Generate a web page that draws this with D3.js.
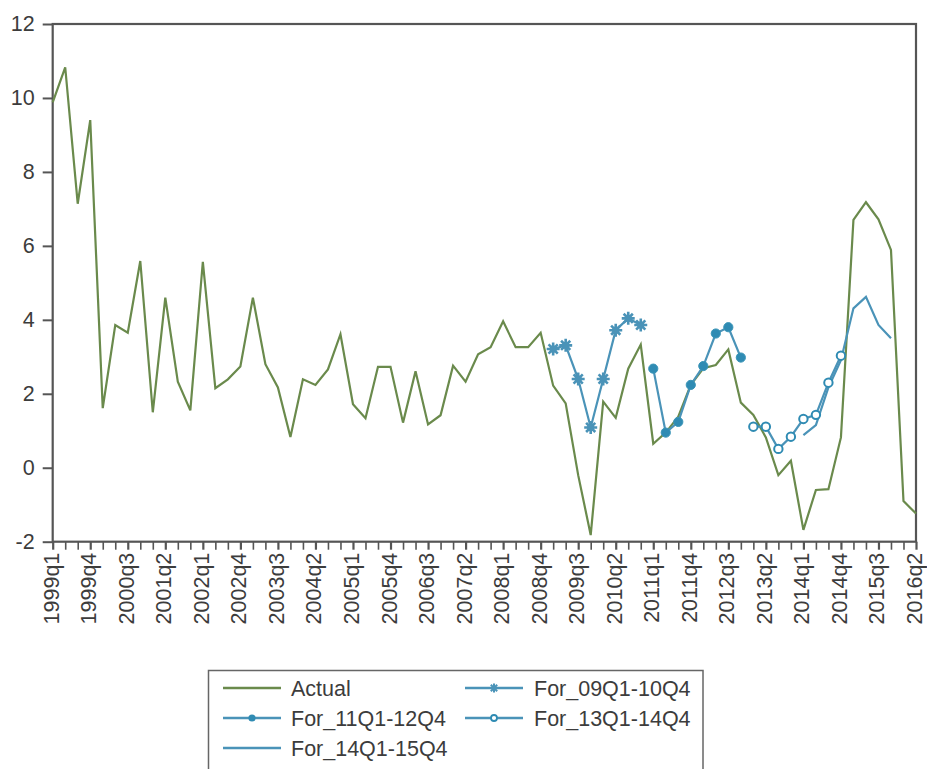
<!DOCTYPE html>
<html>
<head>
<meta charset="utf-8">
<script src="https://cdn.jsdelivr.net/npm/d3@7"></script>
<style>
  html, body { margin: 0; padding: 0; background: #fff; }
  svg { display: block; }
  text { font-family: "Liberation Sans", Arial, sans-serif; fill: #3c3c3c; }
</style>
</head>
<body>
<svg id="chart" width="927" height="769"></svg>
<script>
// Quarterly periods on the category axis
const quarters = [
  "1999q1","1999q2","1999q3","1999q4","2000q1","2000q2","2000q3","2000q4",
  "2001q1","2001q2","2001q3","2001q4","2002q1","2002q2","2002q3","2002q4",
  "2003q1","2003q2","2003q3","2003q4","2004q1","2004q2","2004q3","2004q4",
  "2005q1","2005q2","2005q3","2005q4","2006q1","2006q2","2006q3","2006q4",
  "2007q1","2007q2","2007q3","2007q4","2008q1","2008q2","2008q3","2008q4",
  "2009q1","2009q2","2009q3","2009q4","2010q1","2010q2","2010q3","2010q4",
  "2011q1","2011q2","2011q3","2011q4","2012q1","2012q2","2012q3","2012q4",
  "2013q1","2013q2","2013q3","2013q4","2014q1","2014q2","2014q3","2014q4",
  "2015q1","2015q2","2015q3","2015q4","2016q1","2016q2"
];

// Labelled periods on the x axis
const xTickLabels = [
  "1999q1","1999q4","2000q3","2001q2","2002q1","2002q4","2003q3","2004q2",
  "2005q1","2005q4","2006q3","2007q2","2008q1","2008q4","2009q3","2010q2",
  "2011q1","2011q4","2012q3","2013q2","2014q1","2014q4","2015q3","2016q2"
];

const yTicks = [-2, 0, 2, 4, 6, 8, 10, 12];

// Actual series
const actual = [
  9.88, 10.83, 7.14, 9.40, 1.61, 3.86, 3.65, 5.59, 1.50, 4.60,
  2.33, 1.55, 5.57, 2.15, 2.39, 2.74, 4.60, 2.80, 2.17, 0.83,
  2.39, 2.24, 2.66, 3.61, 1.72, 1.34, 2.73, 2.73, 1.22, 2.61,
  1.17, 1.42, 2.76, 2.33, 3.07, 3.26, 3.96, 3.26, 3.26, 3.65,
  2.22, 1.74, -0.20, -1.82, 1.79, 1.35, 2.68, 3.33, 0.65, 0.95,
  1.38, 2.24, 2.69, 2.78, 3.20, 1.76, 1.43, 0.82, -0.20, 0.19,
  -1.68, -0.60, -0.58, 0.82, 6.70, 7.18, 6.72, 5.89, -0.90, -1.24
];

// Forecast paths, each beginning at its first forecast quarter
const for09Start = "2009q1";
const for09 = [3.21, 3.31, 2.40, 1.09, 2.40, 3.72, 4.04, 3.86];
const for11Start = "2011q1";
const for11 = [2.68, 0.95, 1.24, 2.24, 2.75, 3.63, 3.80, 2.98];
const for13Start = "2013q1";
const for13 = [1.11, 1.11, 0.51, 0.84, 1.32, 1.43, 2.30, 3.03];
const for14Start = "2014q1";
const for14 = [0.88, 1.15, 2.17, 2.91, 4.31, 4.62, 3.86, 3.50];

const legendNames = ["Actual", "For_09Q1-10Q4", "For_11Q1-12Q4", "For_13Q1-14Q4", "For_14Q1-15Q4"];

// ---- layout ----
const svg = d3.select("#chart");
const plot = { left: 52.7, right: 916, top: 24, bottom: 541.7 };
const green = "#6a8a4c";
const blue = "#4a93b8";
const markerBlue = "#2f8bb3";
const axisColor = "#555555";
const fontSize = 21.5;

const x = d3.scalePoint().domain(quarters).range([plot.left, plot.right]);
const y = d3.scaleLinear().domain([-2, 12]).range([plot.bottom, plot.top]);

// y axis ticks and labels (plain hyphen for negatives)
const yAxis = d3.axisLeft(y).tickValues(yTicks).tickSize(10).tickPadding(8).tickFormat(d => String(d));
const gy = svg.append("g").attr("transform", `translate(${plot.left},0)`).call(yAxis);
gy.select(".domain").remove();
gy.selectAll(".tick line").attr("stroke", axisColor).attr("stroke-width", 2);
gy.selectAll(".tick text").attr("font-size", fontSize).attr("fill", "#3c3c3c")
  .style("font-family", "'Liberation Sans', Arial, sans-serif");

// x axis: a tick at every quarter, labels on every third
const xAxis = d3.axisBottom(x).tickSize(8).tickFormat(() => "");
const gx = svg.append("g").attr("transform", `translate(0,${plot.bottom})`).call(xAxis);
gx.select(".domain").remove();
gx.selectAll(".tick line").attr("stroke", axisColor)
  .attr("stroke-width", d => xTickLabels.includes(d) ? 2.2 : 1.6);

svg.append("g").selectAll("text").data(xTickLabels).join("text")
  .attr("transform", d => `translate(${x(d)},${plot.bottom + 11}) rotate(-90)`)
  .attr("text-anchor", "end")
  .attr("dy", "0.28em")
  .attr("font-size", fontSize)
  .text(d => d);

// plot frame
svg.append("rect")
  .attr("x", plot.left).attr("y", plot.top)
  .attr("width", plot.right - plot.left).attr("height", plot.bottom - plot.top)
  .attr("fill", "none").attr("stroke", axisColor).attr("stroke-width", 2.2);

// ---- lines ----
const line = d3.line().x(d => x(d.q)).y(d => y(d.v));
const toPoints = (start, vals) => {
  const i0 = quarters.indexOf(start);
  return vals.map((v, k) => ({ q: quarters[i0 + k], v }));
};

const actualPts = actual.map((v, i) => ({ q: quarters[i], v }));
const p09 = toPoints(for09Start, for09);
const p11 = toPoints(for11Start, for11);
const p13 = toPoints(for13Start, for13);
const p14 = toPoints(for14Start, for14);

svg.append("path").datum(actualPts).attr("d", line)
  .attr("fill", "none").attr("stroke", green).attr("stroke-width", 2.2).attr("stroke-linejoin", "miter");

[p14, p13, p11, p09].forEach(pts => {
  svg.append("path").datum(pts).attr("d", line)
    .attr("fill", "none").attr("stroke", blue).attr("stroke-width", 2.2);
});

// marker shapes
function starPath(r) {
  const p = d3.path();
  for (let k = 0; k < 4; k++) {
    const a = k * Math.PI / 4;
    p.moveTo(-r * Math.cos(a), -r * Math.sin(a));
    p.lineTo(r * Math.cos(a), r * Math.sin(a));
  }
  return p.toString();
}
function drawStar(g, cx, cy) {
  g.append("circle").attr("cx", cx).attr("cy", cy).attr("r", 3.6).attr("fill", blue);
  g.append("path").attr("d", starPath(6.5)).attr("transform", `translate(${cx},${cy})`)
    .attr("stroke", blue).attr("stroke-width", 2.6).attr("fill", "none");
}
function drawDot(g, cx, cy) {
  g.append("circle").attr("cx", cx).attr("cy", cy).attr("r", 4.6)
    .attr("fill", markerBlue).attr("stroke", "#3a95b8").attr("stroke-width", 1);
}
function drawRing(g, cx, cy) {
  g.append("circle").attr("cx", cx).attr("cy", cy).attr("r", 4.2)
    .attr("fill", "#fff").attr("stroke", markerBlue).attr("stroke-width", 2);
}

const mk = svg.append("g");
p09.forEach(d => drawStar(mk, x(d.q), y(d.v)));
p11.forEach(d => drawDot(mk, x(d.q), y(d.v)));
p13.forEach(d => drawRing(mk, x(d.q), y(d.v)));

// ---- legend ----
const lg = svg.append("g");
lg.append("rect").attr("x", 208.5).attr("y", 670.5).attr("width", 494.5).attr("height", 140)
  .attr("fill", "#fff").attr("stroke", "#666").attr("stroke-width", 1.5);

const rows = [688, 718, 748];
const cols = [{ x1: 223, x2: 281, tx: 291 }, { x1: 465, x2: 523, tx: 534 }];
const items = [
  { name: legendNames[0], c: 0, r: 0, color: green, m: null },
  { name: legendNames[1], c: 1, r: 0, color: blue, m: drawStar },
  { name: legendNames[2], c: 0, r: 1, color: blue, m: drawDot },
  { name: legendNames[3], c: 1, r: 1, color: blue, m: drawRing },
  { name: legendNames[4], c: 0, r: 2, color: blue, m: null }
];
items.forEach(it => {
  const c = cols[it.c], yy = rows[it.r];
  lg.append("line").attr("x1", c.x1).attr("x2", c.x2).attr("y1", yy).attr("y2", yy)
    .attr("stroke", it.color).attr("stroke-width", 2.4);
  if (it.m === drawStar) {
    const cx = (c.x1 + c.x2) / 2;
    lg.append("path").attr("d", starPath(4.5)).attr("transform", `translate(${cx},${yy})`)
      .attr("stroke", blue).attr("stroke-width", 2).attr("fill", "none");
  } else if (it.m === drawDot) {
    lg.append("circle").attr("cx", (c.x1 + c.x2) / 2).attr("cy", yy).attr("r", 3.6).attr("fill", markerBlue);
  } else if (it.m === drawRing) {
    lg.append("circle").attr("cx", (c.x1 + c.x2) / 2).attr("cy", yy).attr("r", 3)
      .attr("fill", "#fff").attr("stroke", markerBlue).attr("stroke-width", 1.8);
  }
  lg.append("text").attr("x", c.tx).attr("y", yy).attr("dy", "0.36em")
    .attr("font-size", fontSize).text(it.name);
});
</script>
</body>
</html>
